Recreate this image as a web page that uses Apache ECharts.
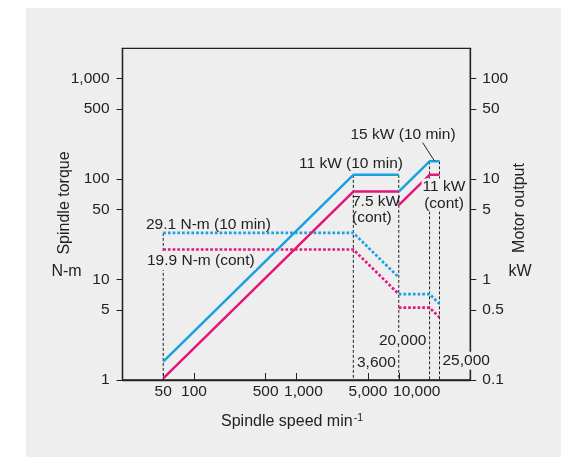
<!DOCTYPE html>
<html><head><meta charset="utf-8">
<script src="https://cdn.jsdelivr.net/npm/echarts@6/dist/echarts.min.js"></script>
<style>
html,body{margin:0;padding:0;background:#fff}
#wrap{position:relative;width:561px;height:458px}
#bg{position:absolute;left:26px;top:8px;width:535px;height:449px;background:#eeeeee}
#c{position:absolute;left:0;top:0;width:561px;height:458px}
</style>
</head><body><div id="wrap"><div id="bg"></div><div id="c"></div></div>
<script>
// ---- data ----
const speedTicks = [50, 100, 500, 1000, 5000, 10000];
const torqueTicks = [1, 5, 10, 50, 100, 500, 1000];
const powerTicks = [0.1, 0.5, 1, 5, 10, 50, 100];

// low-speed winding (50 - 10,000 min-1)
const speedLow = [50, 3600, 10000];
const power10Low = [0.152, 11, 11];       // kW (10 min)
const powerContLow = [0.104, 7.5, 7.5];   // kW (cont)
const torque10Low = [29.1, 29.1, 10.5];   // N-m (10 min)
const torqueContLow = [19.9, 19.9, 7.16]; // N-m (cont)

// high-speed winding (10,000 - 25,000 min-1)
const speedHigh = [10000, 20000, 25000];
const power10High = [7.5, 15, 15];
const powerContHigh = [5.5, 11, 11];
const torque10High = [7.16, 7.16, 5.73];
const torqueContHigh = [5.25, 5.25, 4.2];

// vertical reference lines (torque-axis units)
const guideSpeeds = [50, 3600, 10000, 20000, 25000];
const guideTops = [29.1, 110, 110, 150, 150];
const guideBottom = 1;

// ---- chart ----
const BLUE = '#1ba1e2', PINK = '#e3167c', INK = '#222';
const FONT = '"Liberation Sans", Arial, sans-serif';
const pairs = (xs, ys) => xs.map((x, i) => [x, ys[i]]);
const fmt = v => Number(Number(v).toPrecision(6)).toLocaleString('en-US');
// x-label nudges (px to the right), as in the original artwork
const xLabelNudge = { 1000: 7, 10000: 18 };
const xfmt = v => {
  const n = Number(Number(v).toPrecision(6));
  const k = xLabelNudge[n] ? 'n' + xLabelNudge[n] : 'n0';
  return '{' + k + '|' + fmt(n) + '}';
};
const xRich = {};
[0, 7, 18].forEach(s => { xRich['n' + s] = { fontSize: 15.5, fontFamily: FONT, color: INK, padding: [0, 0, 0, 2 * s] }; });

const series = [];
guideSpeeds.forEach((s, i) => {
  series.push({
    type: 'line', yAxisIndex: 0, silent: true, symbol: 'none', z: 1,
    data: [[s, guideTops[i]], [s, guideBottom]],
    lineStyle: { color: INK, width: 1, type: [3, 2] }
  });
});
function line(xs, ys, axis, color, dotted) {
  series.push({
    type: 'line', yAxisIndex: axis, silent: true, symbol: 'none', z: 3,
    data: pairs(xs, ys),
    lineStyle: dotted ? { color, width: 2.7, type: [2.7, 2], cap: 'butt' } : { color, width: 2.5 }
  });
}
line(speedLow, torque10Low, 0, BLUE, true);
line(speedLow, torqueContLow, 0, PINK, true);
line(speedHigh, torque10High, 0, BLUE, true);
line(speedHigh, torqueContHigh, 0, PINK, true);
line(speedLow, power10Low, 1, BLUE, false);
line(speedLow, powerContLow, 1, PINK, false);
line(speedHigh, power10High, 1, BLUE, false);
line(speedHigh, powerContHigh, 1, PINK, false);

const txt = (text, x, y, opt = {}) => Object.assign({
  type: 'text', x, y, z: 100,
  style: Object.assign({ text, fill: INK, font: '15.5px ' + FONT, align: 'left', verticalAlign: 'middle' }, opt.style || {})
}, opt.el || {});
const BGC = '#eeeeee';

const chart = echarts.init(document.getElementById('c'), null, { renderer: 'canvas' });
chart.setOption({
  animation: false,
  backgroundColor: 'transparent',
  grid: { left: 122.5, right: 90.7, top: 48.3, bottom: 78, show: true, borderColor: INK, borderWidth: 1.3, backgroundColor: 'transparent', outerBoundsMode: 'none' },
  xAxis: {
    type: 'log', min: 20, max: 50000,
    axisLine: { lineStyle: { color: INK, width: 1.3 } },
    axisTick: { inside: true, length: 7, lineStyle: { color: INK, width: 1 }, customValues: speedTicks },
    axisLabel: { customValues: speedTicks, formatter: xfmt, rich: xRich, hideOverlap: false, showMaxLabel: true, color: INK, fontSize: 15.5, fontFamily: FONT, margin: 4 },
    minorTick: { show: false }, splitLine: { show: false }
  },
  yAxis: [{
    type: 'log', min: 1, max: 2000, position: 'left',
    axisLine: { show: true, lineStyle: { color: INK, width: 1.3 } },
    axisTick: { show: true, inside: false, length: 6, lineStyle: { color: INK, width: 1 }, customValues: torqueTicks },
    axisLabel: { customValues: torqueTicks, formatter: fmt, hideOverlap: false, color: INK, fontSize: 15.5, fontFamily: FONT, margin: 13 },
    splitLine: { show: false }
  }, {
    type: 'log', min: 0.1, max: 200, position: 'right',
    axisLine: { show: true, lineStyle: { color: INK, width: 1.3 } },
    axisTick: { show: true, inside: false, length: 6, lineStyle: { color: INK, width: 1 }, customValues: powerTicks },
    axisLabel: { customValues: powerTicks, formatter: fmt, hideOverlap: false, color: INK, fontSize: 15.5, fontFamily: FONT, margin: 12 },
    splitLine: { show: false }
  }],
  series,
  graphic: [
    txt('Spindle torque', 65, 203, { el: { rotation: Math.PI / 2 }, style: { align: 'center', font: '16px ' + FONT } }),
    txt('N-m', 66.5, 272, { style: { align: 'center', font: '16px ' + FONT } }),
    txt('Motor output', 519.5, 208, { el: { rotation: Math.PI / 2 }, style: { align: 'center', font: '16px ' + FONT } }),
    txt('kW', 520, 272, { style: { align: 'center', font: '16px ' + FONT } }),
    {
      type: 'text', x: 292, y: 422, z: 100,
      style: {
        text: '{a|Spindle speed min}{s|-1}', align: 'center', verticalAlign: 'middle',
        rich: { a: { fontSize: 16, fontFamily: FONT, fill: INK, color: INK }, s: { fontSize: 10.5, fontFamily: FONT, color: INK, fill: INK, verticalAlign: 'top', padding: [0, 0, 8, 1] } }
      }
    },
    txt('29.1 N-m (10 min)', 146, 224.5),
    txt('19.9 N-m (cont)', 146, 261, { style: { backgroundColor: BGC, padding: [1, 1] } }),
    txt('11 kW (10 min)', 299, 164),
    txt('15 kW (10 min)', 350.5, 135),
    txt('7.5 kW\n(cont)', 352, 209.7, { style: { lineHeight: 16 } }),
    txt('11 kW\n(cont)', 444, 195, { style: { align: 'center', lineHeight: 16.6, backgroundColor: BGC, padding: [0, 1] } }),
    txt('20,000', 378, 341, { style: { backgroundColor: BGC, padding: [1, 1] } }),
    txt('3,600', 357, 362.3),
    txt('25,000', 441.5, 360.7, { style: { backgroundColor: BGC, padding: [1, 1] } }),
    { type: 'line', z: 100, shape: { x1: 422.7, y1: 142.7, x2: 434.3, y2: 160.7 }, style: { stroke: INK, lineWidth: 1 } }
  ]
});
</script>
</body></html>
